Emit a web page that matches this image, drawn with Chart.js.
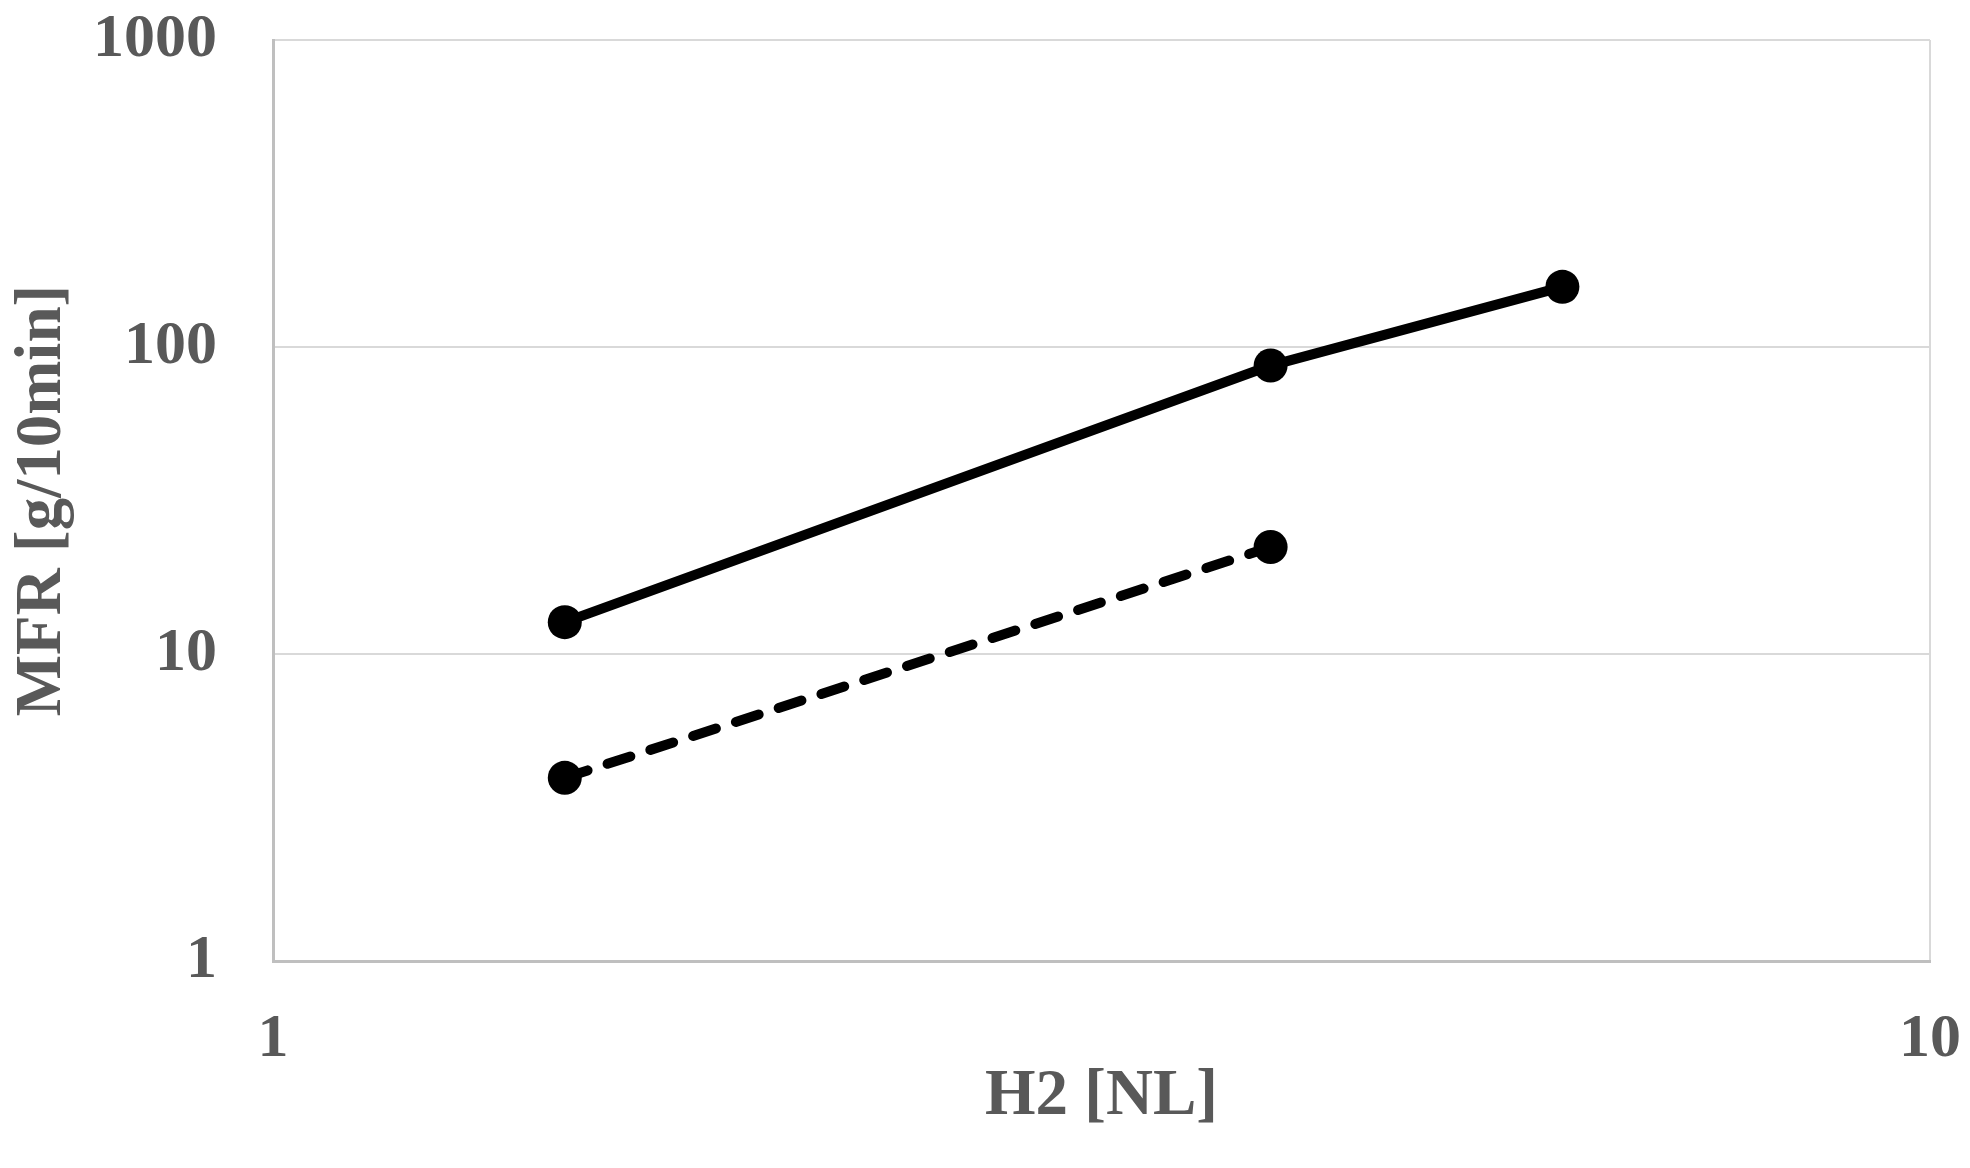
<!DOCTYPE html>
<html lang="en">
<head>
    <meta charset="UTF-8">
    <title>MFR vs H2</title>
    <script src="https://cdn.jsdelivr.net/npm/chart.js"></script>
    <style>
        html, body { margin: 0; padding: 0; background: #fff; }
        #wrap { width: 1970px; height: 1168px; }
    </style>
</head>
<body>
<div id="wrap"><canvas id="chart"></canvas></div>
<script>
    // H2 amounts [NL]
    const H2_SOLID = [1.5, 4, 6];
    const H2_DASHED = [1.5, 4];
    // MFR [g/10min]
    const MFR_SOLID = [12.7, 87, 157];
    const MFR_DASHED = [3.95, 22.3];

    const X_TICKS = [1, 10];
    const Y_TICKS = [1, 10, 100, 1000];

    const TEXT_GREY = "#595959";
    const SERIF = "'Liberation Serif', 'Times New Roman', serif";
    const TICK_FONT = { family: SERIF, weight: 'bold', size: 62 };
    const TITLE_FONT = { family: SERIF, weight: 'bold', size: 65 };

    function pts(xs, ys) {
        return xs.map((x, i) => ({ x: x, y: ys[i] }));
    }

    let ctx = document.getElementById('chart');

    let chart = new Chart(ctx, {
        type: 'line',
        data: {
            datasets: [
                {
                    data: pts(H2_SOLID, MFR_SOLID),
                    borderColor: "#000",
                    backgroundColor: "#000",
                    borderWidth: 10,
                    pointRadius: 17,
                    pointBorderWidth: 0
                },
                {
                    data: pts(H2_DASHED, MFR_DASHED),
                    borderColor: "#000",
                    backgroundColor: "#000",
                    borderWidth: 10,
                    borderDash: [24, 21],
                    borderCapStyle: 'round',
                    pointRadius: 17,
                    pointBorderWidth: 0
                }
            ]
        },
        options: {
            responsive: true,
            maintainAspectRatio: false,
            animation: false,
            layout: { padding: { top: 40, right: 40, left: 0, bottom: 0 } },
            plugins: { legend: { display: false }, tooltip: { enabled: false } },
            scales: {
                x: {
                    type: 'logarithmic',
                    min: 1, max: 10,
                    afterBuildTicks: (s) => { s.ticks = X_TICKS.map(v => ({ value: v })); },
                    afterFit: (s) => { s.height = 207; s.paddingLeft = 0; s.paddingRight = 0; },
                    grid: { color: "#d9d9d9", lineWidth: 2, drawTicks: false },
                    border: { color: "#bfbfbf", width: 3 },
                    ticks: {
                        color: TEXT_GREY, font: TICK_FONT, padding: 42,
                        maxRotation: 0, autoSkip: false,
                        callback: (v) => String(v)
                    },
                    title: {
                        display: true, text: "H2 [NL]", color: TEXT_GREY, font: TITLE_FONT,
                        padding: { top: 0, bottom: 32 }
                    }
                },
                y: {
                    type: 'logarithmic',
                    min: 1, max: 1000,
                    afterBuildTicks: (s) => { s.ticks = Y_TICKS.map(v => ({ value: v })); },
                    afterFit: (s) => { s.width = 273; s.paddingTop = 0; s.paddingBottom = 0; },
                    grid: { color: "#d9d9d9", lineWidth: 2, drawTicks: false },
                    border: { color: "#bfbfbf", width: 3 },
                    ticks: {
                        color: TEXT_GREY, font: TICK_FONT, padding: 56,
                        autoSkip: false,
                        callback: (v) => String(v)
                    },
                    title: {
                        display: true, text: "MFR [g/10min]", color: TEXT_GREY, font: TITLE_FONT,
                        padding: { top: 4, bottom: 0 }
                    }
                }
            }
        }
    });
</script>
</body>
</html>
